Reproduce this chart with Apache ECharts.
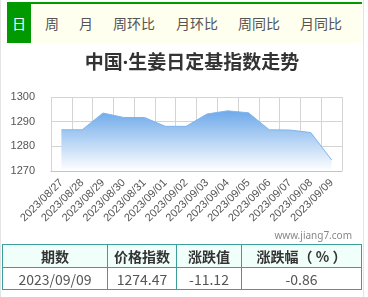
<!DOCTYPE html>
<html>
<head>
<meta charset="utf-8">
<script src="https://cdn.jsdelivr.net/npm/echarts@6/dist/echarts.min.js"></script>
<style>
  html, body { margin: 0; padding: 0; background: #fff; }
  body { width: 368px; height: 297px; position: relative; overflow: hidden; font-family: "Noto Sans CJK SC", sans-serif; }
  #chart { position: absolute; left: 0; top: 0; width: 368px; height: 297px; }
  .edge { position: absolute; top: 0; width: 1px; height: 297px; background: #e4e4e4; }
  #tabs { position: absolute; left: 7px; top: 2px; width: 355px; height: 41px; border-top: 2px solid #009900; background: #fffff0; box-sizing: border-box; }
  #tabs span { position: absolute; top: 0; height: 39px; line-height: 39px; font-size: 14px; color: #555; transform: translateX(-50%); white-space: nowrap; }
  #tabs span.on { background: #009900; color: #fff; width: 24px; text-align: center; left: 12px; }
  table { position: absolute; left: 2px; top: 244px; width: 360px; border-collapse: collapse; font-size: 14px; }
  td { border: 1px solid #3a9e9a; text-align: center; padding: 0; white-space: nowrap; }
  tr.h td { background: #f0fff9; color: #333; font-weight: bold; height: 22px; }
  tr.d td { color: #555; height: 21px; }
</style>
</head>
<body>
<div id="chart"></div>
<div class="edge" style="left:0"></div>
<div class="edge" style="left:363px"></div>
<div id="tabs"></div>
<table>
  <tr class="h"><td style="width:104px">期数</td><td style="width:68px">价格指数</td><td style="width:64px">涨跌值</td><td>涨跌幅（ % ）</td></tr>
  <tr class="d"><td id="c0"></td><td id="c1"></td><td id="c2"></td><td id="c3"></td></tr>
</table>
<script>
const tabNames = ['日', '周', '月', '周环比', '月环比', '周同比', '月同比']
const tabX = [12, 45, 79, 127, 190, 252, 314]
const dates = ['2023/08/27', '2023/08/28', '2023/08/29', '2023/08/30', '2023/08/31', '2023/09/01', '2023/09/02',
  '2023/09/03', '2023/09/04', '2023/09/05', '2023/09/06', '2023/09/07', '2023/09/08', '2023/09/09']
const values = [1286.7, 1286.7, 1293.5, 1291.7, 1291.7, 1288.1, 1288.1, 1293.1, 1294.4, 1293.6, 1286.7, 1286.6, 1285.59, 1274.47]
const tableRow = ['2023/09/09', '1274.47', '-11.12', '-0.86']

const tabs = document.getElementById('tabs')
tabNames.forEach(function (t, i) {
  const s = document.createElement('span')
  s.textContent = t
  if (i === 0) s.className = 'on'
  else s.style.left = tabX[i] + 'px'
  tabs.appendChild(s)
})
tableRow.forEach(function (v, i) {
  document.getElementById('c' + i).textContent = v
})

const myChart = echarts.init(document.getElementById('chart'))
const option = {
  animation: false,
  title: {
    text: '中国·生姜日定基指数走势',
    left: 187,
    top: 49,
    textAlign: 'center',
    textStyle: { fontSize: 19, fontWeight: 'bold', color: '#333', fontFamily: '"Noto Sans", "Noto Sans CJK SC"' }
  },
  graphic: [
    {
      type: 'text',
      right: 16,
      top: 231,
      style: { text: 'www.jiang7.com', font: '10px "Noto Sans", sans-serif', fill: '#888' }
    }
  ],
  grid: { left: 51, right: 26, top: 97, bottom: 126 },
  xAxis: {
    type: 'category',
    data: dates,
    boundaryGap: true,
    axisLine: { lineStyle: { color: '#b4c7e0' } },
    axisTick: { length: 9, lineStyle: { color: '#b4c7e0' } },
    splitLine: { show: true, lineStyle: { color: '#d4d4d4' } },
    axisLabel: { rotate: 45, interval: 0, fontSize: 11, color: '#555', margin: 10, fontFamily: 'Liberation Sans' }
  },
  yAxis: {
    type: 'value',
    min: 1270,
    max: 1300,
    interval: 10,
    axisLine: { show: false },
    axisTick: { show: false },
    splitLine: { lineStyle: { color: '#d4d4d4' } },
    axisLabel: {
      fontSize: 11, color: '#555', margin: 16, fontFamily: 'Liberation Sans',
      formatter: function (v) { return String(v) }
    }
  },
  series: [
    {
      type: 'line',
      data: values,
      symbol: 'none',
      lineStyle: { color: '#7fb5ec', width: 1 },
      areaStyle: {
        opacity: 1,
        color: new echarts.graphic.LinearGradient(0, 0, 0, 1, [
          { offset: 0, color: '#6ea9ea' },
          { offset: 1, color: '#ffffff' }
        ])
      }
    }
  ]
}
myChart.setOption(option)
</script>
</body>
</html>
